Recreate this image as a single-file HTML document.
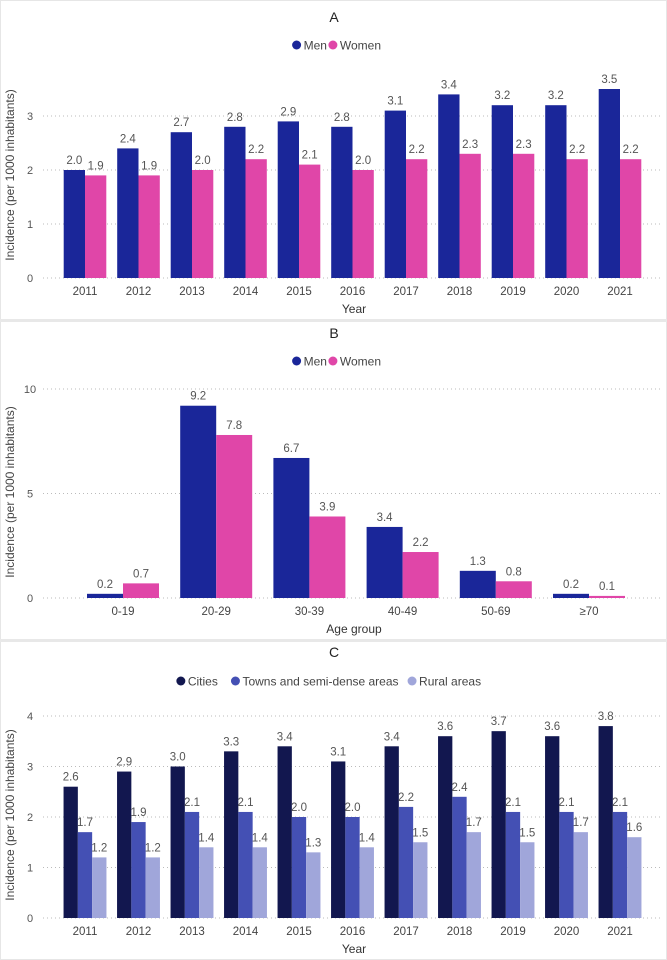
<!DOCTYPE html>
<html><head><meta charset="utf-8"><style>
html,body{margin:0;padding:0;background:#fff;}
svg{display:block;font-family:"Liberation Sans",sans-serif;}
</style></head><body>
<svg id="s" width="667" height="960">
<rect x="0.5" y="0.5" width="666" height="959" fill="#fff" stroke="#e6e6e6"/>
<rect x="0" y="319" width="667" height="3" fill="#e8e8e8"/>
<rect x="0" y="639" width="667" height="3" fill="#e8e8e8"/>
</svg>
<script>
const yearsA=["2011","2012","2013","2014","2015","2016","2017","2018","2019","2020","2021"];
const menA=[2.0,2.4,2.7,2.8,2.9,2.8,3.1,3.4,3.2,3.2,3.5];
const womenA=[1.9,1.9,2.0,2.2,2.1,2.0,2.2,2.3,2.3,2.2,2.2];
const ticksA=[0,1,2,3];
const agesB=["0-19","20-29","30-39","40-49","50-69","≥70"];
const menB=[0.2,9.2,6.7,3.4,1.3,0.2];
const womenB=[0.7,7.8,3.9,2.2,0.8,0.1];
const ticksB=[0,5,10];
const yearsC=["2011","2012","2013","2014","2015","2016","2017","2018","2019","2020","2021"];
const citiesC=[2.6,2.9,3.0,3.3,3.4,3.1,3.4,3.6,3.7,3.6,3.8];
const townsC=[1.7,1.9,2.1,2.1,2.0,2.0,2.2,2.4,2.1,2.1,2.1];
const ruralC=[1.2,1.2,1.4,1.4,1.3,1.4,1.5,1.7,1.5,1.7,1.6];
const ticksC=[0,1,2,3,4];
const NS="http://www.w3.org/2000/svg";
const svg=document.getElementById('s');
function mk(tag,attrs,parent){const e=document.createElementNS(NS,tag);for(const k in attrs)e.setAttribute(k,attrs[k]);(parent||svg).appendChild(e);return e;}
function txt(x,y,s,size,fill,anchor,parent){const t=mk('text',{x:x,y:y,'font-size':size,fill:fill,'text-anchor':anchor||'middle'},parent);t.textContent=s;return t;}
function panel(o){
 const g=mk('g',{});
 
 
 const t=txt(334,o.titleY+5,o.title,14,'#222','middle',g);
 
 
 let widths=o.series.map(s=>s.label.length*6.1+18);
 let total=widths.reduce((a,b)=>a+b,0);
 let lx=334-total/2;
 o.series.forEach((s,i)=>{
  const lg=mk('g',{},g);
  
  
  mk('circle',{cx:lx+5,cy:o.legendY,r:4.5,fill:s.color},lg);
  txt(lx+12,o.legendY+4.5,s.label,12,'#444','start',lg);
  lx+=widths[i];
 });
 const yv=v=>o.y0-v*o.ppu;
 o.ticks.forEach(tk=>{
  const l=mk('line',{x1:43,x2:660,y1:yv(tk),y2:yv(tk),stroke:'#bbb','stroke-dasharray':'1,3'},g);
  
  
  const tl=txt(30,yv(tk)+4,String(tk),11,'#555','middle',g);
  
  
 });
 const xc=i=>o.x0+i*o.step;
 const bw=o.barW, ns=o.series.length;
 o.cats.forEach((c,i)=>{
  const cl=txt(xc(i),o.tickY,c,11.5,'#444','middle',g);
  
  
  o.series.forEach((s,j)=>{
   const v=s.vals[i];
   const bx=xc(i)-ns*bw/2+j*bw;
   const r=mk('rect',{x:bx,y:yv(v),width:bw,height:v*o.ppu,fill:s.color},g);
   
   
   const vl=txt(bx+bw/2,yv(v)-6,v.toFixed(1),11.5,'#555','middle',g);
   
   
  });
 });
 const xt=txt(354,o.xTitleY,o.xTitle,12,'#333','middle',g);
 
 
 const yt=mk('text',{x:0,y:0,'font-size':12,fill:'#444','text-anchor':'middle',transform:`translate(14,${o.yTitleY}) rotate(-90)`},g);
 yt.textContent='Incidence (per 1000 inhabitants)';
 
 
}
panel({name:'panel-a',title:'A',titleY:17,legendY:45,y0:278,ppu:54,ticks:ticksA,cats:yearsA,x0:85,step:53.5,barW:21.3,tickY:295,xTitle:'Year',xTitleY:313,yTitleY:175,
 series:[{key:'men',label:'Men',color:'#1a2699',vals:menA},{key:'women',label:'Women',color:'#e046a8',vals:womenA}]});
panel({name:'panel-b',title:'B',titleY:333,legendY:361,y0:598,ppu:20.9,ticks:ticksB,cats:agesB,x0:123,step:93.2,barW:36,tickY:615,xTitle:'Age group',xTitleY:633,yTitleY:492,
 series:[{key:'men',label:'Men',color:'#1a2699',vals:menB},{key:'women',label:'Women',color:'#e046a8',vals:womenB}]});
panel({name:'panel-c',title:'C',titleY:652,legendY:681,y0:918,ppu:50.5,ticks:ticksC,cats:yearsC,x0:85,step:53.5,barW:14.3,tickY:935,xTitle:'Year',xTitleY:953,yTitleY:815,
 series:[{key:'cities',label:'Cities',color:'#12174f',vals:citiesC},{key:'towns',label:'Towns and semi-dense areas',color:'#4450b4',vals:townsC},{key:'rural',label:'Rural areas',color:'#a0a6da',vals:ruralC}]});
</script>
</body></html>
